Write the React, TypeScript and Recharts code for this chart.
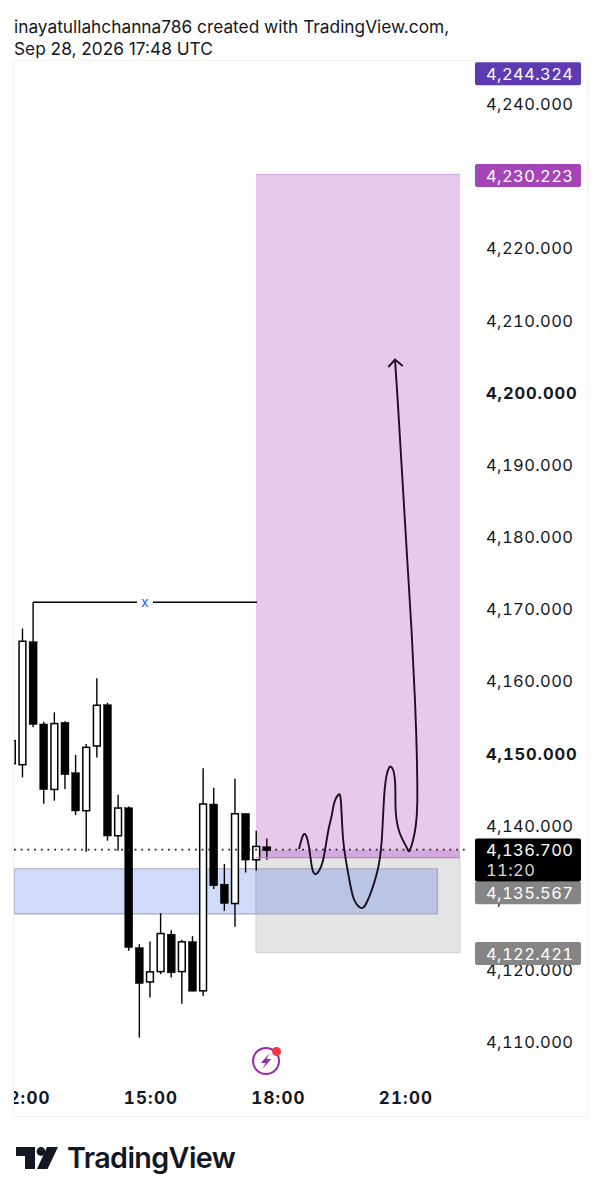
import React from "react"
import {
  ComposedChart,
  Bar,
  Line,
  XAxis,
  YAxis,
  ReferenceArea,
  ReferenceLine,
  ReferenceDot,
} from "recharts"

const FONT = "Inter, sans-serif"
const TABULAR = { fontVariantNumeric: "tabular-nums" as const }

// candle times in decimal hours, 15 minute bars
const times = [11.75, 12, 12.25, 12.5, 12.75, 13, 13.25, 13.5, 13.75, 14, 14.25, 14.5, 14.75, 15, 15.25, 15.5, 15.75, 16, 16.25, 16.5, 16.75, 17, 17.25, 17.5, 17.75]
const opens = [4148.6, 4148.46, 4165.52, 4154.1, 4145.03, 4154.33, 4147.35, 4142.08, 4151.05, 4156.78, 4138.61, 4142.5, 4123.12, 4118.36, 4119.79, 4124.98, 4119.79, 4123.95, 4117.12, 4143.01, 4131.91, 4129.22, 4141.71, 4135.28, 4137.09]
const highs = [4151.79, 4167.32, 4170.97, 4154.42, 4155.71, 4154.47, 4149.81, 4151.33, 4160.43, 4157.02, 4144.3, 4142.68, 4123.59, 4123.95, 4127.89, 4125.53, 4124.19, 4124.7, 4147.95, 4145.27, 4134.69, 4146.52, 4141.71, 4139.31, 4138.24]
const lows = [4148.6, 4146.7, 4153.63, 4143.05, 4143.47, 4145.09, 4141.48, 4136.39, 4149.47, 4137.92, 4136.53, 4122.66, 4110.64, 4116.19, 4119.43, 4118.96, 4115.35, 4117.07, 4116.42, 4131.22, 4128.21, 4125.99, 4133.52, 4133.76, 4135.28]
const closes = [4151.79, 4165.56, 4154.01, 4144.99, 4154.15, 4147.07, 4142.04, 4150.86, 4156.69, 4138.57, 4142.45, 4123.12, 4118.13, 4119.75, 4125.06, 4119.61, 4123.91, 4117.07, 4143.01, 4131.68, 4129.22, 4141.66, 4135.24, 4137.13, 4136.53]

const candles = times.map((time, i) => ({ time, open: opens[i], high: highs[i], low: lows[i], close: closes[i] }))

// hand drawn scribble
const sketchTimes = [18.506, 18.569, 18.631, 18.701, 18.765, 18.819, 18.899, 19.0, 19.094, 19.195, 19.275, 19.336, 19.431, 19.494, 19.548, 19.666, 19.784, 19.941, 20.099, 20.334, 20.452, 20.513, 20.584, 20.671, 20.765, 20.781, 20.882, 21.04, 21.118, 21.235, 21.289, 21.275, 21.235, 21.158, 21.04, 20.922, 20.828, 20.765]
const sketchPrices = [4136.77, 4138.15, 4138.85, 4138.15, 4136.07, 4134.0, 4133.3, 4134.0, 4135.84, 4139.31, 4141.39, 4143.23, 4144.3, 4143.23, 4137.92, 4133.3, 4130.06, 4128.67, 4129.36, 4133.3, 4137.92, 4144.4, 4147.39, 4148.18, 4146.24, 4142.08, 4138.89, 4136.99, 4136.67, 4139.31, 4143.47, 4150.4, 4157.34, 4166.63, 4178.14, 4189.7, 4198.95, 4204.59]
const sketch = sketchTimes.map((time, i) => ({ time, price: sketchPrices[i] }))
const arrowHead = [
  { time: 20.607, price: 4203.56 },
  { time: 20.765, price: 4204.59 },
  { time: 20.946, price: 4203.7 },
]

const hourTicks = [12, 15, 18, 21]
const priceTicks = [4240, 4230, 4220, 4210, 4200, 4190, 4180, 4170, 4160, 4150, 4140, 4130, 4120, 4110]
const boldTicks = [4200, 4150]

const LAST_PRICE = 4136.7
const ENTRY = 4135.567
const STOP = 4122.421
const TARGET = 4230.223
const HIGH_TAG = 4244.324
const tagColors: Record<number, string> = {
  [HIGH_TAG]: "#5d3ab2",
  [TARGET]: "#a544b8",
  [LAST_PRICE]: "#000000",
  [ENTRY]: "#858585",
  [STOP]: "#858585",
}
// tagged prices come last so their boxes sit on top of the plain ticks
const axisTicks = [...priceTicks, HIGH_TAG, TARGET, STOP, ENTRY, LAST_PRICE]

const SWING = 4170.97
const ZONE_START = 17.494
const ZONE_END = 22.294
const BLUE_TOP = 4134.04
const BLUE_BOTTOM = 4127.8
const BODY_WIDTH = 8

const money = (v: number) =>
  v.toLocaleString("en-US", { minimumFractionDigits: 3, maximumFractionDigits: 3 })

const Candle = (props: any) => {
  const { x, y, width, height, payload } = props
  const { open, high, low, close } = payload
  const perUnit = height / (high - low)
  const cx = x + width / 2
  const up = close > open
  const bodyTop = y + (high - Math.max(open, close)) * perUnit
  const bodyBottom = y + (high - Math.min(open, close)) * perUnit
  return (
    <g>
      <line x1={cx} x2={cx} y1={y} y2={y + height} stroke="#000" strokeWidth={1.4} />
      <rect
        x={cx - BODY_WIDTH / 2 + (up ? 0.6 : 0)}
        y={bodyTop}
        width={BODY_WIDTH - (up ? 1.2 : 0)}
        height={Math.max(bodyBottom - bodyTop, 1)}
        fill={up ? "#fff" : "#000"}
        stroke="#000"
        strokeWidth={up ? 1.5 : 0.4}
      />
    </g>
  )
}

const PriceTick = (props: any) => {
  const { x, y, payload } = props
  const value = payload.value as number
  const color = tagColors[value]
  const textX = x + 5
  const shared = { x: textX, fontFamily: FONT, fontSize: 16.5, letterSpacing: 0.4, style: TABULAR }
  if (!color) {
    return (
      <text {...shared} y={y + 6} fill="#131722" fontWeight={boldTicks.includes(value) ? 700 : 400} letterSpacing={boldTicks.includes(value) ? 0.9 : 0.4}>
        {money(value)}
      </text>
    )
  }
  const boxX = x - 6
  if (value === LAST_PRICE) {
    return (
      <g>
        <rect x={boxX} y={y - 11} width={106} height={43} rx={2} fill={color} />
        <text {...shared} y={y + 6} fill="#fff">{money(value)}</text>
        <text {...shared} y={y + 26} fill="#d8d8d8">11:20</text>
      </g>
    )
  }
  const shift = value === ENTRY ? 35 : 1
  return (
    <g>
      <rect x={boxX} y={y - 11.5 + shift} width={106} height={23} rx={2} fill={color} />
      <text {...shared} y={y + 6 + shift} fill="#fff">{money(value)}</text>
    </g>
  )
}

const BoltBadge = (props: any) => {
  const { cx, cy } = props
  return (
    <g transform={`translate(${cx},${cy})`}>
      <circle r={13} fill="#fff" stroke="#9c27b0" strokeWidth={2} />
      <path d="M3.5 -8 L-5 2 L-0.5 2 L-3.5 8 L5 -2 L0.5 -2 Z" fill="#9c27b0" />
      <circle cx={10.5} cy={-9.5} r={4.5} fill="#f23645" />
    </g>
  )
}

const App: React.FC = () => {
  return (
    <div style={{ position: "absolute", left: 0, top: 0, width: 601, height: 1199, background: "#fff", fontFamily: FONT, overflow: "hidden" }}>
      <div style={{ position: "absolute", left: 14, top: 16, fontSize: 17.3, lineHeight: "21.5px", color: "#131722" }}>
        inayatullahchanna786 created with TradingView.com,
        <br />
        Sep 28, 2026 17:48 UTC
      </div>

      <div style={{ position: "absolute", left: 13, top: 60, width: 573, height: 1055, border: "1px solid #f2f2f2", overflow: "hidden" }}>
        <ComposedChart width={573} height={1055} data={candles} margin={{ top: 0, right: 0, bottom: 0, left: 0 }}>
          <XAxis
            dataKey="time"
            type="number"
            domain={[11.8, 22.6]}
            allowDataOverflow
            ticks={hourTicks}
            interval={0}
            axisLine={false}
            tickLine={false}
            height={35}
            dy={3}
            dx={1}
            tick={{ fontFamily: FONT, fontSize: 17, fontWeight: 700, fill: "#131722", letterSpacing: 1.2, style: TABULAR }}
            tickFormatter={(h: number) => `${h}:00`}
          />
          <YAxis
            orientation="right"
            type="number"
            domain={[4104.63, 4245.96]}
            allowDataOverflow
            ticks={axisTicks}
            interval={0}
            width={114}
            axisLine={false}
            tickLine={false}
            tick={<PriceTick />}
          />

          <ReferenceArea x1={ZONE_START} x2={ZONE_END} y1={LAST_PRICE} y2={TARGET} fill="#e7c9ec" fillOpacity={1} stroke="none" />
          <ReferenceArea x1={ZONE_START} x2={ZONE_END} y1={ENTRY} y2={LAST_PRICE} fill="#d3a8de" fillOpacity={1} stroke="none" />
          <ReferenceArea x1={ZONE_START} x2={ZONE_END} y1={STOP} y2={ENTRY} fill="#e4e4e4" fillOpacity={1} stroke="#cfcfcf" />
          <ReferenceLine segment={[{ x: ZONE_START, y: TARGET }, { x: ZONE_END, y: TARGET }]} stroke="#d8b2e0" strokeWidth={1.5} />
          <ReferenceLine segment={[{ x: ZONE_START, y: ENTRY }, { x: ZONE_END, y: ENTRY }]} stroke="#b58bc4" strokeWidth={1.2} />
          <ReferenceArea x1={11.8} x2={21.76} y1={BLUE_BOTTOM} y2={BLUE_TOP} fill="#003be3" fillOpacity={0.185} stroke="#a3a9b8" strokeWidth={1.2} />

          <ReferenceLine segment={[{ x: 11.8, y: LAST_PRICE }, { x: 22.52, y: LAST_PRICE }]} stroke="#222" strokeWidth={1.8} strokeDasharray="1.8 4.9" />

          <ReferenceLine segment={[{ x: 12.25, y: SWING }, { x: 14.694, y: SWING }]} stroke="#000" strokeWidth={1.4} />
          <ReferenceLine segment={[{ x: 15.07, y: SWING }, { x: 17.52, y: SWING }]} stroke="#000" strokeWidth={1.4} />
          <ReferenceDot
            x={14.88}
            y={SWING}
            r={0}
            stroke="none"
            label={{ value: "x", position: "center", fill: "#2962ff", fontSize: 14, fontFamily: FONT }}
          />
          <ReferenceDot x={17.73} y={4107.4} shape={<BoltBadge />} />

          <Bar dataKey={(d: any) => [d.low, d.high]} barSize={8} shape={<Candle />} isAnimationActive={false} />
          <Line data={sketch} dataKey="price" type="natural" stroke="#1b1020" strokeWidth={1.9} dot={false} activeDot={false} isAnimationActive={false} />
          <Line data={arrowHead} dataKey="price" type="linear" stroke="#1b1020" strokeWidth={1.9} dot={false} activeDot={false} isAnimationActive={false} />
        </ComposedChart>
      </div>

      <svg style={{ position: "absolute", left: 14, top: 1145 }} width={46} height={26} viewBox="0 0 46 26">
        <path d="M2 2 H21 V24 H11 V11 H2 Z" fill="#131722" />
        <circle cx={27} cy={6.5} r={4.4} fill="#131722" />
        <path d="M33 2 H44 L33.5 24 H23 Z" fill="#131722" />
      </svg>
      <div style={{ position: "absolute", left: 67, top: 1141, fontSize: 28.7, lineHeight: "34px", fontWeight: 600, color: "#131722", letterSpacing: -0.6 }}>
        TradingView
      </div>
    </div>
  )
}

export default App
